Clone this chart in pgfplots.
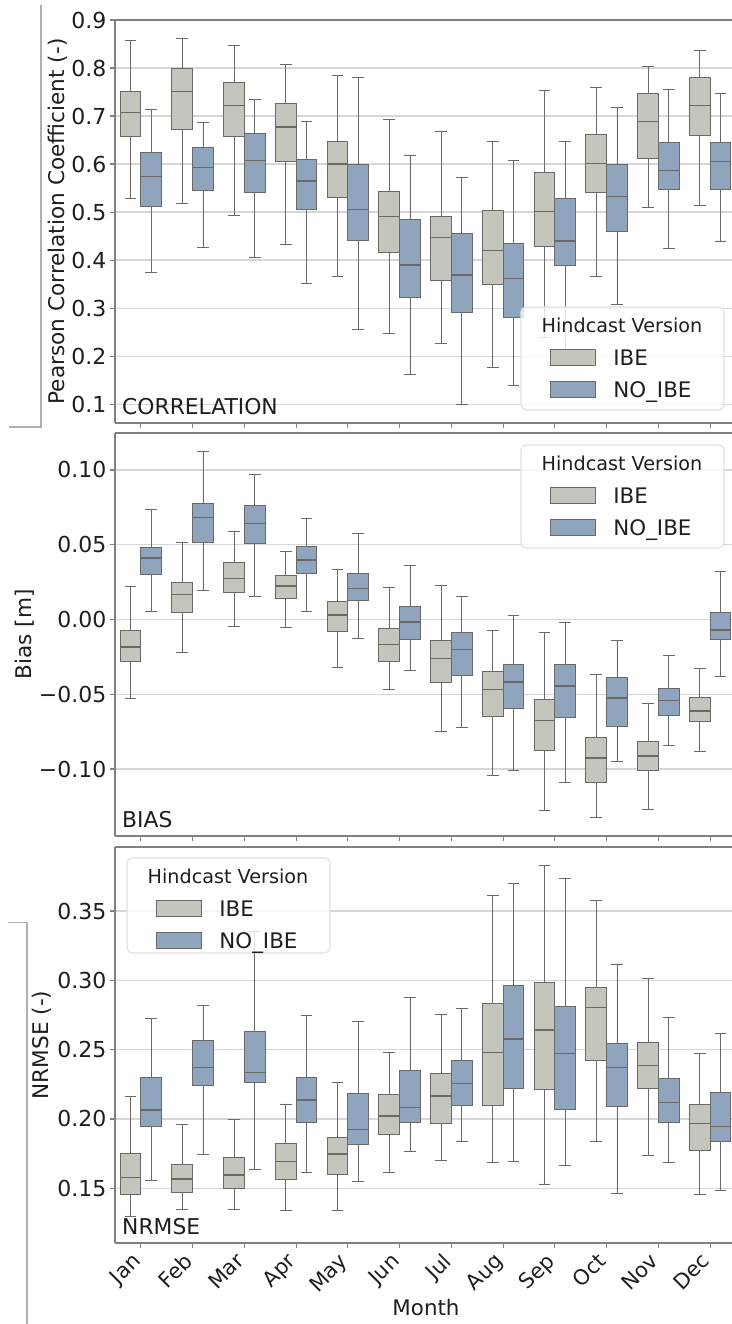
\documentclass[border=0pt]{standalone}
\usepackage{fontspec}
\setmainfont{DejaVu Sans}
\usepackage{pgfplots}
\pgfplotsset{compat=1.18}
\usepackage{pgfplotstable}
\usepgfplotslibrary{statistics}

\definecolor{ibe}{RGB}{196,197,188}
\definecolor{noibe}{RGB}{143,165,189}
\definecolor{lineg}{RGB}{105,105,105}
\definecolor{axisg}{RGB}{128,128,128}
\definecolor{gridg}{RGB}{214,214,214}
\definecolor{legg}{RGB}{225,225,225}
\definecolor{txt}{RGB}{30,30,30}
\definecolor{bracketg}{RGB}{175,175,175}

% columns: lower whisker, lower quartile, median, upper quartile, upper whisker
\pgfplotstableread{
lw lq med uq uw
0.528 0.658 0.708 0.751 0.858
0.519 0.673 0.751 0.798 0.862
0.494 0.658 0.722 0.769 0.847
0.432 0.605 0.677 0.726 0.807
0.367 0.531 0.600 0.648 0.784
0.247 0.415 0.491 0.543 0.692
0.227 0.358 0.447 0.491 0.669
0.176 0.349 0.420 0.503 0.648
0.240 0.428 0.501 0.583 0.753
0.367 0.541 0.601 0.661 0.760
0.510 0.611 0.689 0.747 0.803
0.514 0.660 0.722 0.781 0.836
}\corrIBE
\pgfplotstableread{
lw lq med uq uw
0.374 0.512 0.574 0.624 0.713
0.426 0.545 0.593 0.635 0.687
0.406 0.540 0.608 0.663 0.735
0.352 0.506 0.565 0.609 0.688
0.256 0.440 0.506 0.599 0.781
0.162 0.322 0.390 0.485 0.619
0.099 0.291 0.369 0.456 0.572
0.140 0.281 0.362 0.435 0.608
0.210 0.389 0.440 0.528 0.647
0.308 0.460 0.533 0.599 0.717
0.424 0.547 0.587 0.645 0.756
0.440 0.547 0.606 0.645 0.747
}\corrNOIBE
\pgfplotstableread{
lw lq med uq uw
-0.0526 -0.0283 -0.0185 -0.0074 0.0219
-0.0223 0.0049 0.0167 0.0250 0.0517
-0.0045 0.0183 0.0274 0.0384 0.0591
-0.0054 0.0140 0.0223 0.0297 0.0453
-0.0319 -0.0078 0.0029 0.0123 0.0334
-0.0468 -0.0279 -0.0167 -0.0062 0.0212
-0.0747 -0.0424 -0.0261 -0.0143 0.0227
-0.1043 -0.0647 -0.0468 -0.0346 -0.0074
-0.1278 -0.0874 -0.0676 -0.0535 -0.0085
-0.1322 -0.1093 -0.0925 -0.0792 -0.0368
-0.1271 -0.1008 -0.0914 -0.0818 -0.0564
-0.0885 -0.0680 -0.0613 -0.0524 -0.0330
}\biasIBE
\pgfplotstableread{
lw lq med uq uw
0.0056 0.0301 0.0412 0.0482 0.0736
0.0194 0.0517 0.0680 0.0776 0.1126
0.0156 0.0506 0.0640 0.0763 0.0970
0.0056 0.0308 0.0397 0.0491 0.0676
-0.0129 0.0127 0.0207 0.0308 0.0573
-0.0339 -0.0134 -0.0018 0.0089 0.0363
-0.0725 -0.0372 -0.0201 -0.0089 0.0156
-0.1010 -0.0598 -0.0417 -0.0301 0.0027
-0.1093 -0.0658 -0.0446 -0.0301 -0.0022
-0.0952 -0.0718 -0.0524 -0.0390 -0.0140
-0.0841 -0.0640 -0.0542 -0.0464 -0.0241
-0.0379 -0.0134 -0.0071 0.0049 0.0323
}\biasNOIBE
\pgfplotstableread{
lw lq med uq uw
0.1300 0.1457 0.1579 0.1748 0.2161
0.1349 0.1469 0.1567 0.1668 0.1957
0.1349 0.1495 0.1596 0.1724 0.1993
0.1339 0.1560 0.1692 0.1820 0.2108
0.1339 0.1596 0.1748 0.1865 0.2264
0.1615 0.1889 0.2022 0.2173 0.2481
0.1700 0.1964 0.2166 0.2329 0.2757
0.1685 0.2094 0.2481 0.2834 0.3611
0.1531 0.2214 0.2642 0.2983 0.3827
0.1841 0.2425 0.2803 0.2950 0.3579
0.1736 0.2221 0.2385 0.2555 0.3014
0.1452 0.1769 0.1969 0.2106 0.2474
}\nrmseIBE
\pgfplotstableread{
lw lq med uq uw
0.1555 0.1945 0.2065 0.2300 0.2726
0.1745 0.2245 0.2373 0.2563 0.2822
0.1637 0.2262 0.2334 0.2630 0.3350
0.1615 0.1974 0.2137 0.2300 0.2750
0.1548 0.1813 0.1925 0.2185 0.2702
0.1764 0.1976 0.2082 0.2353 0.2877
0.1841 0.2094 0.2257 0.2425 0.2798
0.1692 0.2221 0.2577 0.2966 0.3700
0.1661 0.2065 0.2474 0.2810 0.3736
0.1459 0.2089 0.2373 0.2541 0.3118
0.1685 0.1976 0.2118 0.2291 0.2733
0.1481 0.1837 0.1945 0.2190 0.2618
}\nrmseNOIBE

% one box per month for a table; #2 = box style, #3 = offset from month centre
\newcommand\boxseries[3]{%
  \pgfplotsinvokeforeach{0,...,11}{%
    \pgfplotstablegetelem{##1}{lw}\of#1\let\vlw\pgfplotsretval
    \pgfplotstablegetelem{##1}{lq}\of#1\let\vlq\pgfplotsretval
    \pgfplotstablegetelem{##1}{med}\of#1\let\vmed\pgfplotsretval
    \pgfplotstablegetelem{##1}{uq}\of#1\let\vuq\pgfplotsretval
    \pgfplotstablegetelem{##1}{uw}\of#1\let\vuw\pgfplotsretval
    \pgfmathsetmacro\vpos{##1#3}%
    \edef\doplot{\noexpand\addplot[#2, forget plot,
      boxplot prepared={draw position=\vpos,
        lower whisker=\vlw, lower quartile=\vlq, median=\vmed,
        upper quartile=\vuq, upper whisker=\vuw}] coordinates {};}%
    \doplot
  }%
}

\tikzset{
  paneltag/.style={anchor=south west, inner sep=0pt, font=\fontsize{10.9}{12}\selectfont, text=txt},
  legtext/.style={anchor=base west, inner sep=0pt, font=\fontsize{10.7}{12}\selectfont, text=txt},
}

% legend box: #1 left, #2 top, #3 height (all in pixels of the 0.5pt grid)
\newcommand\hindlegend[3]{%
  \begin{scope}[shift={(#1*0.5pt,-#2*0.5pt)}]
    \draw[legg, line width=0.6pt, rounded corners=2.5pt, fill=white, fill opacity=0.8]
      (0pt,0pt) rectangle (101.5pt,-#3*0.5pt);
    \node[anchor=base, inner sep=0pt, font=\fontsize{9.6}{11}\selectfont, text=txt]
      at (50.5pt,-12.6pt) {Hindcast Version};
    \draw[lineg, line width=0.5pt, fill=ibe] (14.5pt,-21.3pt) rectangle (37pt,-29.3pt);
    \node[legtext] at (46pt,-29.2pt) {IBE};
    \draw[lineg, line width=0.5pt, fill=noibe] (14.5pt,-37.3pt) rectangle (37pt,-45.3pt);
    \node[legtext] at (46pt,-45.2pt) {NO\_IBE};
  \end{scope}
}

\pgfplotsset{
  ibebox/.style={draw=lineg, fill=ibe, line width=0.5pt},
  noibebox/.style={draw=lineg, fill=noibe, line width=0.5pt},
  panel/.style={
    scale only axis, width=310.5pt,
    xmin=-0.5, xmax=11.5,
    axis y line*=left,
    y axis line style={-},
    boxplot/draw direction=y,
    boxplot/box extend=0.4,
    boxplot/whisker extend=0.23,
    boxplot/every whisker/.style={line width=0.45pt},
    boxplot/every median/.style={line width=0.7pt},
    axis line style={draw=axisg, line width=0.8pt},
    tick align=outside, major tick length=2.6pt,
    tick style={draw=axisg, line width=0.6pt},
    xtick={0,...,11}, xtick pos=bottom, ytick pos=left,
    ymajorgrids, grid style={draw=gridg, line width=0.7pt},
    yticklabel style={font=\fontsize{11}{13}\selectfont, text=txt, inner sep=1.5pt},
    xticklabel style={font=\fontsize{10.5}{12}\selectfont, text=txt},
    ylabel style={font=\fontsize{10.8}{12}\selectfont, text=txt, anchor=center},
    xlabel style={font=\fontsize{10.7}{12}\selectfont, text=txt, anchor=center},
  },
}

\begin{document}
\begin{tikzpicture}
\useasboundingbox (0,0) rectangle (366pt,-662pt);

% side brackets
\draw[bracketg, line width=0.8pt] (4.5pt,-213.5pt) -- (20.5pt,-213.5pt) -- (20.5pt,-2.5pt);
\draw[bracketg, line width=0.8pt] (4pt,-461.3pt) -- (13.5pt,-461.3pt) -- (13.5pt,-662pt);

% correlation
\begin{axis}[panel, at={(57.5pt,-211.5pt)}, anchor=south west, height=201.5pt,
  ymin=0.061, ymax=0.9,
  ytick={0.1,0.2,0.3,0.4,0.5,0.6,0.7,0.8,0.9},
  yticklabels={0.1,0.2,0.3,0.4,0.5,0.6,0.7,0.8,0.9},
  xticklabels={},
  ylabel={Pearson Correlation Coefficient (-)},
  ylabel style={at={(axis description cs:-0.092,0.5)}}]
\boxseries{\corrIBE}{ibebox}{-0.2}
\boxseries{\corrNOIBE}{noibebox}{+0.2}
\node[paneltag] at (axis description cs:0.011,0.02) {CORRELATION};
\end{axis}

% bias
\begin{axis}[panel, at={(57.5pt,-418pt)}, anchor=south west, height=201.5pt,
  ymin=-0.1448, ymax=0.1247,
  ytick={-0.10,-0.05,0,0.05,0.10},
  yticklabels={−0.10,−0.05,0.00,0.05,0.10},
  xticklabels={},
  ylabel={Bias [m]},
  ylabel style={at={(axis description cs:-0.146,0.5)}}]
\boxseries{\biasIBE}{ibebox}{-0.2}
\boxseries{\biasNOIBE}{noibebox}{+0.2}
\node[paneltag] at (axis description cs:0.011,0.02) {BIAS};
\end{axis}

% nrmse
\begin{axis}[panel, at={(57.5pt,-621.5pt)}, anchor=south west, height=198pt,
  ymin=0.1105, ymax=0.3962,
  ytick={0.15,0.20,0.25,0.30,0.35},
  yticklabels={0.15,0.20,0.25,0.30,0.35},
  xticklabels={Jan,Feb,Mar,Apr,May,Jun,Jul,Aug,Sep,Oct,Nov,Dec},
  xticklabel style={xshift=-5pt, rotate=45, anchor=north east, inner sep=1pt},
  xlabel={Month},
  xlabel style={at={(axis description cs:0.5008,-0.164)}},
  ylabel={NRMSE (-)},
  ylabel style={at={(axis description cs:-0.118,0.5)}}]
\boxseries{\nrmseIBE}{ibebox}{-0.2}
\boxseries{\nrmseNOIBE}{noibebox}{+0.2}
\node[paneltag] at (axis description cs:0.011,0.02) {NRMSE};
\end{axis}

% legends
\hindlegend{521}{307}{103}
\hindlegend{521}{445}{103}
\hindlegend{127}{858}{95}
\end{tikzpicture}
\end{document}
